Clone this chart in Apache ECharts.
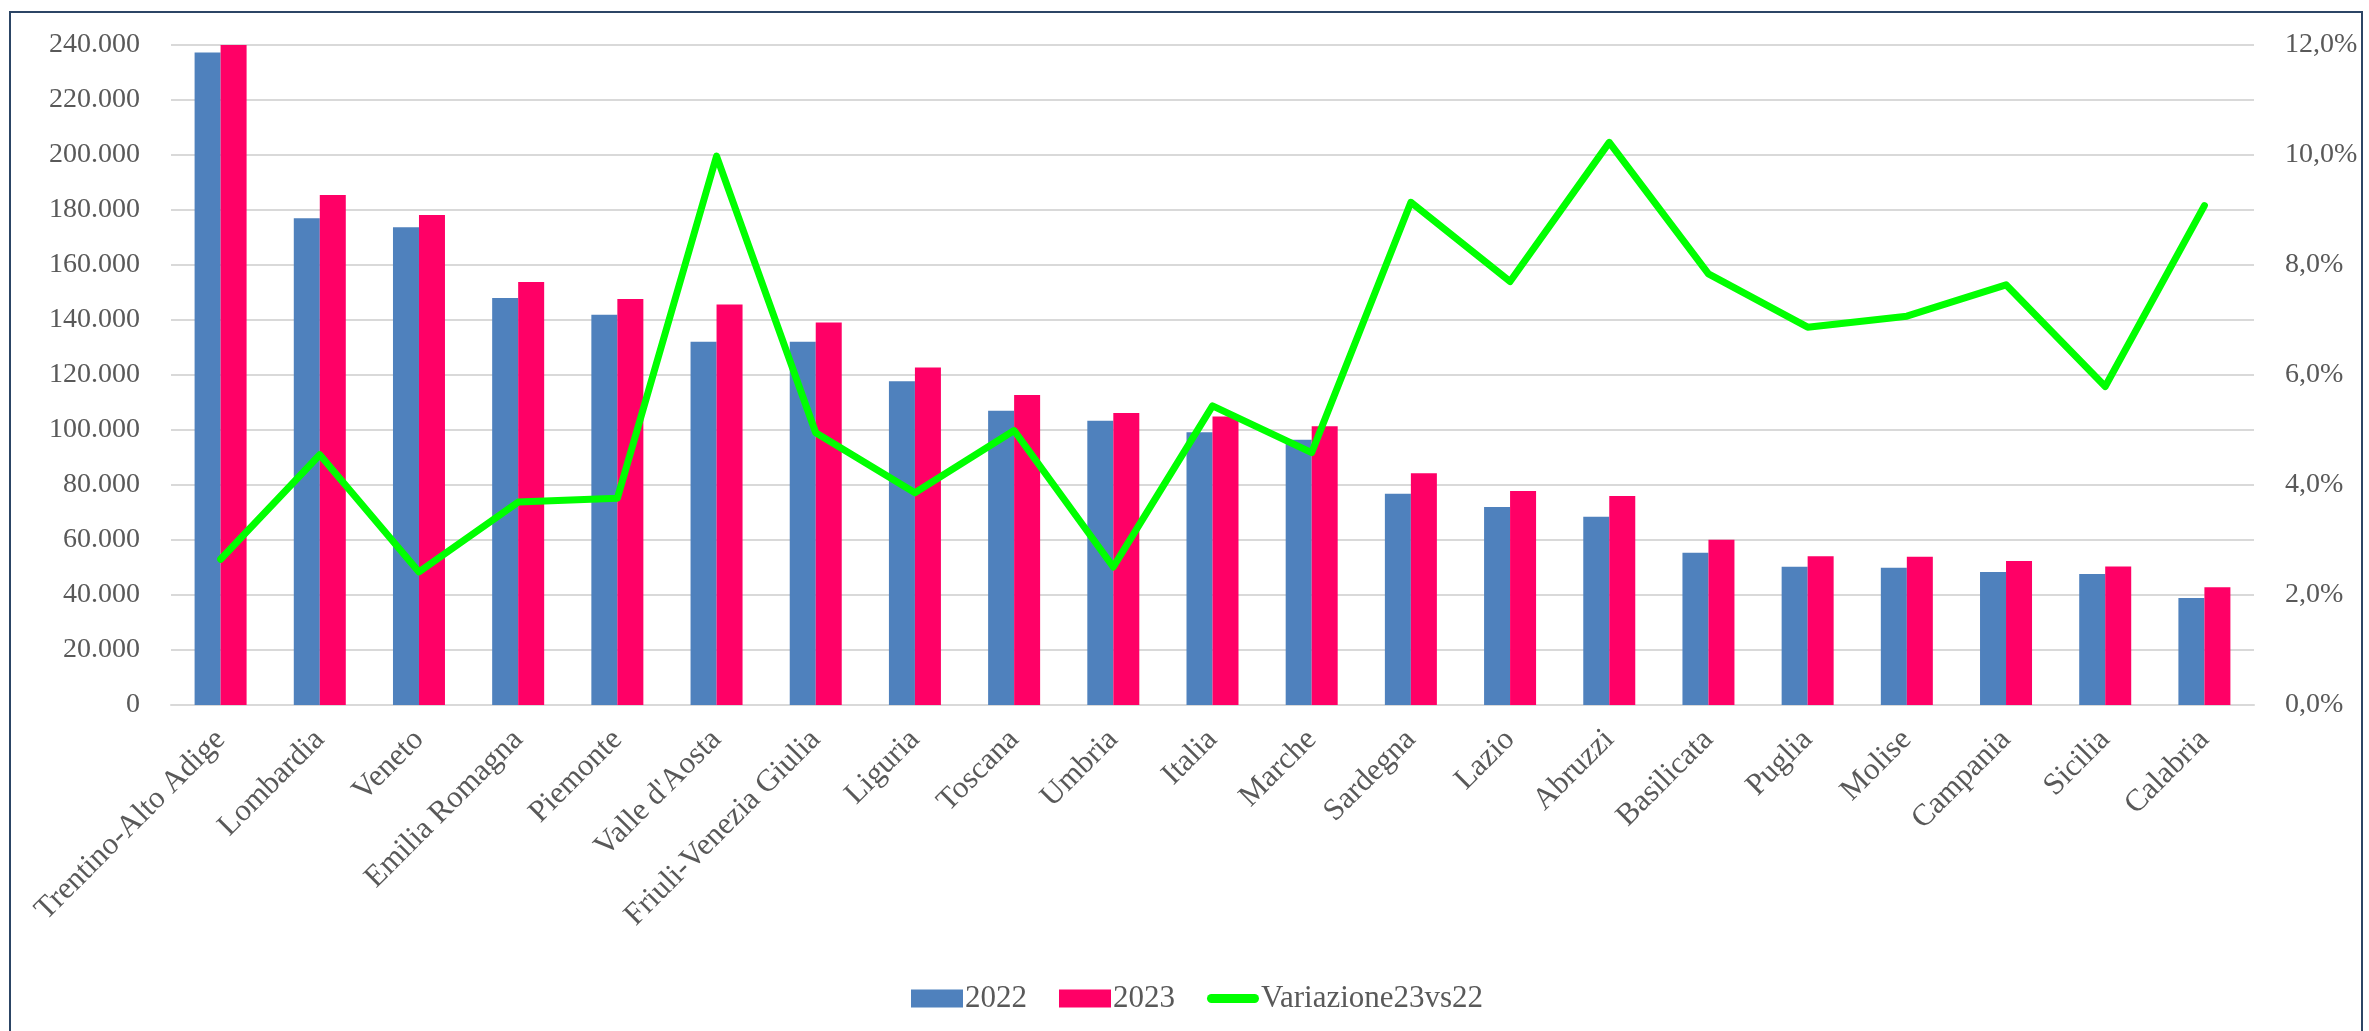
<!DOCTYPE html>
<html>
<head>
<meta charset="utf-8">
<script src="https://cdn.jsdelivr.net/npm/echarts@6/dist/echarts.min.js"></script>
<style>
  html, body { margin: 0; padding: 0; background: #fff; }
  #chart { width: 2369px; height: 1031px; }
  .frame {
    position: absolute; left: 9px; top: 11px; width: 2354px; height: 1022px;
    border: 2px solid #2c4565; pointer-events: none; box-sizing: border-box;
  }
</style>
</head>
<body>
<div id="chart"></div>
<div class="frame"></div>
<script>
// regioni (ordinate per valore 2022)
const regions = ['Trentino-Alto Adige', 'Lombardia', 'Veneto', 'Emilia Romagna', 'Piemonte',
  "Valle d'Aosta", 'Friuli-Venezia Giulia', 'Liguria', 'Toscana', 'Umbria', 'Italia', 'Marche',
  'Sardegna', 'Lazio', 'Abruzzi', 'Basilicata', 'Puglia', 'Molise', 'Campania', 'Sicilia', 'Calabria']

const values2022 = [237300, 177000, 173700, 148000, 141900, 132100, 132100, 117700, 107000, 103400,
  99200, 96500, 76800, 72000, 68500, 55400, 50300, 49900, 48400, 47600, 38900]

const values2023 = [243600, 185500, 178200, 153800, 147600, 145600, 139100, 122700, 112700, 106200,
  104900, 101400, 84300, 77800, 76000, 60100, 54100, 53900, 52400, 50400, 42800]

// variazione percentuale 2023 vs 2022
const variation = [2.65, 4.55, 2.42, 3.69, 3.76, 9.98, 4.95, 3.86, 4.99, 2.51,
  5.44, 4.59, 9.14, 7.70, 10.23, 7.84, 6.87, 7.07, 7.64, 5.79, 9.08]

const textColor = '#595959'
const fontFamily = 'Liberation Serif'

function fmtThousands(v) {
  return String(v).replace(/\B(?=(\d{3})+(?!\d))/g, '.')
}

const chart = echarts.init(document.getElementById('chart'))

chart.setOption({
  animation: false,
  textStyle: { fontFamily: fontFamily, color: textColor },
  grid: { left: 171, right: 115, top: 45, bottom: 326 },
  legend: {
    left: 906,
    top: 978,
    itemWidth: 52,
    itemHeight: 18,
    itemGap: 32,
    textStyle: { fontSize: 31, color: textColor, fontFamily: fontFamily, padding: [0, 0, 0, -3] },
    data: [
      { name: '2022', icon: 'rect' },
      { name: '2023', icon: 'rect' },
      {
        name: 'Variazione23vs22',
        icon: 'path://M5,0 H53 A5,5 0 0 1 53,10 H5 A5,5 0 0 1 5,0 Z',
        itemStyle: { color: '#00ff00' }
      }
    ]
  },
  xAxis: {
    type: 'category',
    data: regions,
    axisTick: { show: false },
    axisLine: { lineStyle: { color: '#d9d9d9', width: 2 } },
    axisLabel: {
      rotate: 45,
      interval: 0,
      margin: 30,
      fontSize: 31,
      color: textColor,
      fontFamily: fontFamily
    }
  },
  yAxis: [
    {
      type: 'value',
      min: 0,
      max: 240000,
      interval: 20000,
      axisLine: { show: false },
      axisTick: { show: false },
      splitLine: { lineStyle: { color: '#d9d9d9', width: 2 } },
      axisLabel: {
        margin: 31,
        fontSize: 28,
        color: textColor,
        fontFamily: fontFamily,
        formatter: v => fmtThousands(v)
      }
    },
    {
      type: 'value',
      min: 0,
      max: 12,
      interval: 2,
      axisLine: { show: false },
      axisTick: { show: false },
      splitLine: { show: false },
      axisLabel: {
        margin: 31,
        fontSize: 28,
        color: textColor,
        fontFamily: fontFamily,
        formatter: v => v.toFixed(1).replace('.', ',') + '%'
      }
    }
  ],
  series: [
    {
      name: '2022',
      type: 'bar',
      data: values2022,
      barWidth: 26,
      barGap: '0%',
      itemStyle: { color: '#4f81bd' }
    },
    {
      name: '2023',
      type: 'bar',
      data: values2023,
      barWidth: 26,
      itemStyle: { color: '#ff0066' }
    },
    {
      name: 'Variazione23vs22',
      type: 'line',
      yAxisIndex: 1,
      data: variation,
      symbol: 'none',
      lineStyle: { color: '#00ff00', width: 7, join: 'round', cap: 'round' },
      itemStyle: { color: '#00ff00' }
    }
  ]
})

window.addEventListener('resize', () => chart.resize())
</script>
</body>
</html>
